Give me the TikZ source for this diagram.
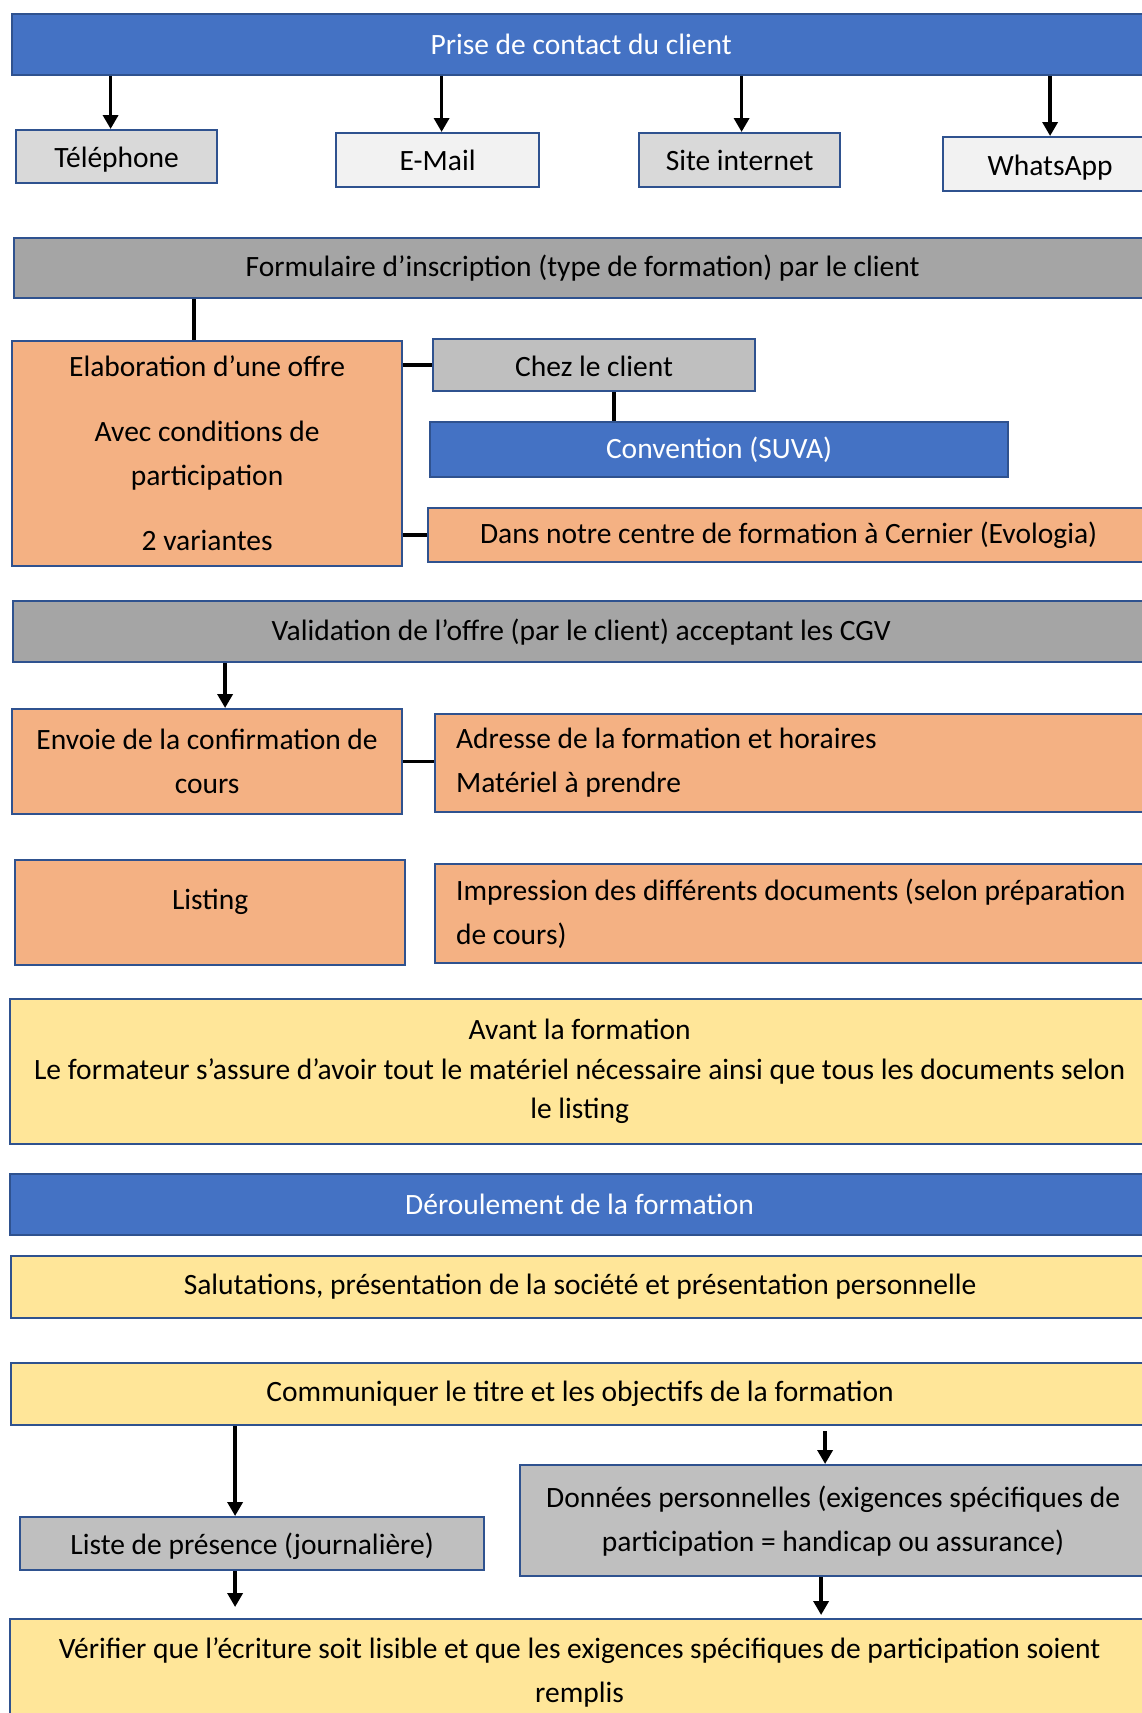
\documentclass[tikz,border=0pt]{standalone}
\usepackage{fontspec}
\setmainfont{Carlito}
\usetikzlibrary{arrows.meta}

\definecolor{headblue}{HTML}{4472C4}
\definecolor{edgeblue}{HTML}{2F528F}
\definecolor{midgray}{HTML}{A5A5A5}
\definecolor{lightgray}{HTML}{D9D9D9}
\definecolor{palegray}{HTML}{F2F2F2}
\definecolor{silver}{HTML}{BFBFBF}
\definecolor{peach}{HTML}{F4B183}
\definecolor{butter}{HTML}{FFE699}

\tikzset{
	box/.style={draw=edgeblue, line width=2.2pt, anchor=north west, inner sep=0pt, align=center, font=\fontsize{29.5}{44}\selectfont},
	bluebox/.style={box, fill=headblue, text=white},
	greybox/.style={box, fill=midgray},
	silverbox/.style={box, fill=silver},
	peachbox/.style={box, fill=peach},
	butterbox/.style={box, fill=butter},
	leftbox/.style={peachbox, align=flush left, inner xsep=21pt, text width=700pt},
	lowtext/.style={text height=29pt, text depth=7pt},
	arr/.style={line width=3.5pt, -{Triangle[length=14pt, width=15pt]}},
	link/.style={line width=3.5pt},
}

\begin{document}
\begin{tikzpicture}[x=1pt, y=-1pt]
		\useasboundingbox (0,0) rectangle (1142,1713);
		\clip (0,0) rectangle (1142,1713);

		%contact
		\node[bluebox, minimum width=1138pt, minimum height=61pt] (contact) at (11,13) {Prise de contact du client};
		\node[box, lowtext, fill=lightgray, minimum width=201pt, minimum height=53pt] (tel) at (15,129) {Téléphone};
		\node[box, fill=palegray, minimum width=203pt, minimum height=54pt] (mail) at (335,132) {E-Mail};
		\node[box, fill=lightgray, minimum width=201pt, minimum height=54pt] (site) at (638,132) {Site internet};
		\node[box, lowtext, fill=palegray, minimum width=214pt, minimum height=54pt] (whats) at (942,136) {WhatsApp};

		\draw[arr] ([xshift=-6pt]contact.south -| tel.north) -- ([xshift=-6pt]tel.north);
		\draw[arr] ([xshift=4pt]contact.south -| mail.north) -- ([xshift=4pt]mail.north);
		\draw[arr] ([xshift=2pt]contact.south -| site.north) -- ([xshift=2pt]site.north);
		\draw[arr] (contact.south -| whats.north) -- (whats.north);

		%inscription
		\node[greybox, minimum width=1137pt, minimum height=60pt] (form) at (13,237) {Formulaire d’inscription (type de formation) par le client};
		\node[peachbox, minimum width=390pt, minimum height=225pt] (offre) at (11,340) {Elaboration d’une offre\\[21pt]Avec conditions de\\participation\\[21pt]2 variantes};
		\node[silverbox, lowtext, minimum width=322pt, minimum height=52pt] (chez) at (432,338) {Chez le client};
		\node[bluebox, minimum width=578pt, minimum height=55pt] (suva) at (429,421) {Convention (SUVA)};
		\node[peachbox, minimum width=721pt, minimum height=54pt] (centre) at (427,507) {Dans notre centre de formation à Cernier (Evologia)};

		\draw[link] ([xshift=-13pt]form.south -| offre.north) -- ([xshift=-13pt]offre.north);
		\draw[link] (offre.east |- chez.west) -- (chez.west);
		\draw[link] ([xshift=20pt]chez.south) -- ([xshift=20pt]chez.south |- suva.north);
		\draw[link] (offre.east |- centre.west) -- (centre.west);

		%validation
		\node[greybox, minimum width=1136pt, minimum height=61pt] (valid) at (12,600) {Validation de l’offre (par le client) acceptant les CGV};
		\node[peachbox, minimum width=390pt, minimum height=105pt] (envoi) at (11,708) {Envoie de la confirmation de\\cours};
		\node[leftbox, minimum height=98pt] (adresse) at (434,713) {Adresse de la formation et horaires\\Matériel à prendre};
		\node[peachbox, text depth=26pt, minimum width=390pt, minimum height=105pt] (listing) at (14,859) {Listing};
		\node[leftbox, minimum height=99pt] (impr) at (434,863) {Impression des différents documents (selon préparation\\de cours)};

		\draw[arr] ([xshift=18pt]valid.south -| envoi.north) -- ([xshift=18pt]envoi.north);
		\draw[link] (envoi.east) -- (envoi.east -| adresse.west);

		%formation
		\node[butterbox, minimum width=1139pt, minimum height=145pt, font=\fontsize{29.5}{39.5}\selectfont] (avant) at (9,998) {Avant la formation\\Le formateur s’assure d’avoir tout le matériel nécessaire ainsi que tous les documents selon\\le listing};
		\node[bluebox, minimum width=1139pt, minimum height=61pt] (deroul) at (9,1173) {Déroulement de la formation};
		\node[butterbox, minimum width=1138pt, minimum height=62pt] (salut) at (10,1255) {Salutations, présentation de la société et présentation personnelle};
		\node[butterbox, minimum width=1138pt, minimum height=62pt] (comm) at (10,1362) {Communiquer le titre et les objectifs de la formation};
		\node[silverbox, lowtext, minimum width=464pt, minimum height=53pt] (liste) at (19,1516) {Liste de présence (journalière)};
		\node[silverbox, minimum width=626pt, minimum height=111pt] (donnees) at (519,1464) {Données personnelles (exigences spécifiques de\\participation = handicap ou assurance)};
		\node[butterbox, minimum width=1139pt, minimum height=106pt] (verif) at (9,1618) {Vérifier que l’écriture soit lisible et que les exigences spécifiques de participation soient\\remplis};

		\draw[arr] ([xshift=-17pt]comm.south -| liste.north) -- ([xshift=-17pt]liste.north);
		\draw[arr] ([xshift=-8pt, yshift=-5pt]comm.south -| donnees.north) -- ([xshift=-8pt]donnees.north);
		\draw[arr, shorten >=11pt] ([xshift=-17pt]liste.south) -- ([xshift=-17pt]liste.south |- verif.north);
		\draw[arr, shorten >=3pt] ([xshift=-12pt]donnees.south) -- ([xshift=-12pt]donnees.south |- verif.north);
	\end{tikzpicture}
\end{document}
